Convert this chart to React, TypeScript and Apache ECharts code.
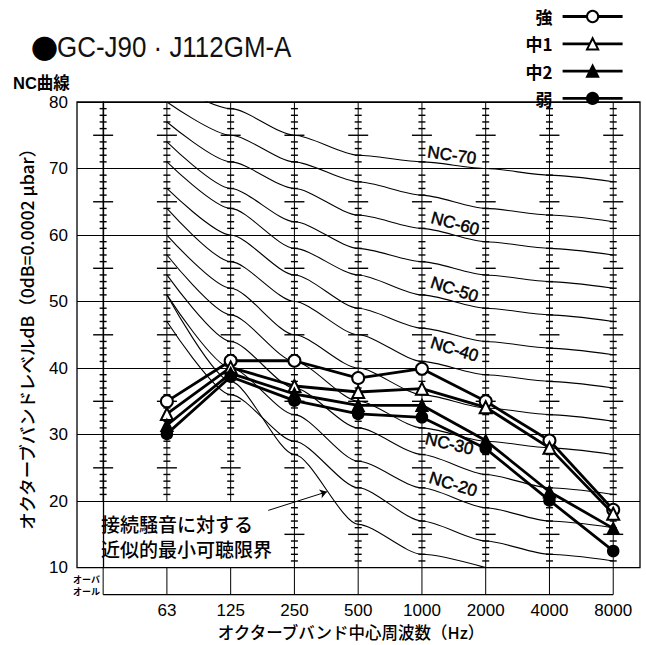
import React, { useEffect, useRef } from "react";
import * as echarts from "echarts";

// ---- data ----
const freqLabels = ["63", "125", "250", "500", "1000", "2000", "4000", "8000"];
const bandIndex = [1, 2, 3, 4, 5, 6, 7, 8]; // 0 = overall column
const columnIndex = [0, 1, 2, 3, 4, 5, 6, 7, 8];
const columnBottom = [20, 20, 20, 10, 10, 10, 10, 10, 10];

const legendNames = ["強", "中1", "中2", "弱"];
const strong = [35.0, 41.1, 41.1, 38.5, 39.9, 35.0, 29.1, 18.7];
const mid1 = [33.1, 40.1, 37.3, 36.4, 36.9, 34.1, 28.0, 18.1];
const mid2 = [31.4, 39.2, 36.1, 34.4, 34.4, 29.1, 21.4, 15.9];
const weak = [30.1, 38.7, 35.1, 33.1, 32.6, 27.9, 20.1, 12.5];

const nc15 = [47, 36, 29, 22, 17, 14, 12, 11];
const nc20 = [51, 40, 33, 26, 22, 19, 17, 16];
const nc25 = [54, 44, 37, 31, 27, 24, 22, 21];
const nc30 = [57, 48, 41, 35, 31, 29, 28, 27];
const nc35 = [60, 52, 45, 40, 36, 34, 33, 32];
const nc40 = [64, 56, 50, 45, 41, 39, 38, 37];
const nc45 = [67, 60, 54, 49, 46, 44, 43, 42];
const nc50 = [71, 64, 58, 54, 51, 49, 48, 47];
const nc55 = [74, 67, 62, 58, 56, 54, 53, 52];
const nc60 = [77, 71, 67, 63, 61, 59, 58, 57];
const nc65 = [80, 75, 71, 68, 66, 64, 63, 62];
const nc70 = [83, 79, 75, 72, 71, 70, 69, 68];
const ncCurves = [nc15, nc20, nc25, nc30, nc35, nc40, nc45, nc50, nc55, nc60, nc65, nc70];

const thresholdBands = [1, 2, 3, 4, 5, 6];
const threshold = [51, 38, 27, 16.5, 12, 10];
const arrowFrom = [2.59, 18.6];
const arrowTo = [3.51, 21.4];

const ncLabelText = ["NC-70", "NC-60", "NC-50", "NC-40", "NC-30", "NC-20"];
const ncLabelBand = [5.47, 5.52, 5.51, 5.51, 5.43, 5.49];
const ncLabelLevel = [72.0, 61.7, 51.8, 42.8, 28.6, 22.5];
const ncLabelAngle = [-8, -15, -18, -17, -13, -17];

const JP = '"Noto Sans CJK JP", "Liberation Sans", sans-serif';
const LAT = '"Liberation Sans", "Noto Sans CJK JP", sans-serif';

function buildOption() {
  const pairs = (xs: number[], ys: number[]) => ys.map((v, k) => [xs[k], v]);

  const columnSeries = {
    type: "custom",
    silent: true,
    z: 2,
    clip: false,
    encode: { x: 0, y: 1 },
    data: columnIndex.map((c, k) => [c, columnBottom[k]]),
    renderItem: (params: any, api: any) => {
      const i = api.value(0);
      const bottom = api.value(1);
      const top = api.coord([i, 80]);
      const bot = api.coord([i, bottom]);
      const x = top[0];
      const children: any[] = [
        { type: "line", shape: { x1: x, y1: top[1], x2: x, y2: bot[1] }, style: { stroke: "#000", lineWidth: 1 } },
      ];
      for (let v = bottom; v <= 80; v++) {
        if (v % 10 === 0) continue;
        const y = api.coord([i, v])[1];
        const hw = v % 5 === 0 ? 10 : 3.5;
        children.push({
          type: "line",
          shape: { x1: x - hw, y1: y, x2: x + hw, y2: y },
          style: { stroke: "#000", lineWidth: 1.4 },
        });
      }
      const base = api.coord([i, 10]);
      children.push({
        type: "line",
        shape: { x1: x, y1: base[1], x2: x, y2: base[1] + 27 },
        style: { stroke: "#000", lineWidth: 1 },
      });
      if (i === 0) {
        const end = api.coord([8, 10]);
        children.push({
          type: "line",
          shape: { x1: x, y1: base[1] + 27, x2: end[0], y2: base[1] + 27 },
          style: { stroke: "#000", lineWidth: 1.2 },
        });
      }
      return { type: "group", children };
    },
  };

  const ncSeries = ncCurves.map((vals) => ({
    type: "line",
    silent: true,
    z: 3,
    data: pairs(bandIndex, vals),
    symbol: "none",
    smooth: 0.25,
    smoothMonotone: "x",
    lineStyle: { color: "#000", width: 1.1 },
  }));

  const thresholdSeries = {
    type: "line",
    silent: true,
    z: 3,
    data: pairs(thresholdBands, threshold),
    symbol: "none",
    smooth: 0.25,
    smoothMonotone: "x",
    lineStyle: { color: "#000", width: 1.1 },
    markLine: {
      silent: true,
      symbol: ["none", "arrow"],
      symbolSize: 7,
      label: { show: false },
      lineStyle: { color: "#000", width: 1, type: "solid" },
      data: [[{ coord: arrowFrom }, { coord: arrowTo }]],
    },
  };

  const labelSeries = {
    type: "custom",
    silent: true,
    z: 4,
    clip: false,
    encode: { x: 0, y: 1 },
    data: ncLabelText.map((t, k) => [ncLabelBand[k], ncLabelLevel[k], k]),
    renderItem: (params: any, api: any) => {
      const k = api.value(2);
      const p = api.coord([api.value(0), api.value(1)]);
      return {
        type: "text",
        x: p[0],
        y: p[1],
        rotation: (ncLabelAngle[k] * Math.PI) / 180,
        style: {
          text: ncLabelText[k],
          fontSize: 17,
          fontFamily: LAT,
          fill: "#000",
          stroke: "#000",
          lineWidth: 0.5,
          align: "center",
          verticalAlign: "middle",
        },
      };
    },
  };

  const symbols = ["emptyCircle", "emptyTriangle", "triangle", "circle"];
  const valuesList = [strong, mid1, mid2, weak];
  const dataSeries = legendNames.map((name, k) => ({
    type: "line",
    name,
    silent: true,
    z: 5 + k,
    data: pairs(bandIndex, valuesList[k]),
    symbol: symbols[k],
    symbolSize: k === 3 ? 11 : 12,
    lineStyle: { color: "#000", width: 2.8 },
    itemStyle: { color: "#000", borderColor: "#000", borderWidth: 1.5 },
  }));

  return {
    animation: false,
    backgroundColor: "#fff",
    grid: { left: 77, right: 6, top: 102, bottom: 77, show: true, borderColor: "#000", borderWidth: 1.3 },
    legend: {
      data: legendNames,
      orient: "vertical",
      right: 22,
      top: 8,
      padding: 0,
      align: "right",
      itemWidth: 60,
      itemHeight: 14,
      itemGap: 10.3,
      selectedMode: false,
      lineStyle: { width: 2.8 },
      textStyle: { fontSize: 17, fontWeight: "bold", color: "#000", fontFamily: JP, lineHeight: 14, padding: [0, 5, 0, 0] },
    },
    xAxis: {
      type: "value",
      min: -0.41,
      max: 8.42,
      splitLine: { show: false },
      axisLine: { show: false },
      axisTick: { show: false },
      axisLabel: {
        customValues: bandIndex,
        formatter: (v: number) => freqLabels[Math.round(v) - 1] ?? "",
        margin: 34,
        fontSize: 17,
        fontFamily: LAT,
        color: "#000",
      },
      name: "オクターブバンド中心周波数（Hz）",
      nameLocation: "middle",
      nameGap: 54,
      nameTextStyle: { fontSize: 16.5, fontFamily: JP, fontWeight: 500, color: "#000", padding: [0, 15, 0, 0] },
    },
    yAxis: {
      type: "value",
      min: 10,
      max: 80,
      interval: 10,
      axisLine: { show: true, lineStyle: { color: "#000", width: 1.3 } },
      axisTick: { show: false },
      splitLine: { show: true, lineStyle: { color: "#000", width: 1.1 } },
      axisLabel: { fontSize: 17, fontFamily: LAT, color: "#000", margin: 9 },
      name: "オクターブバンドレベルdB（0dB=0.0002 μbar）",
      nameLocation: "middle",
      nameGap: 42,
      nameTextStyle: { fontSize: 17.5, fontFamily: JP, fontWeight: 500, color: "#000" },
    },
    graphic: [
      {
        type: "text",
        x: 31,
        y: 47,
        silent: true,
        style: { text: "●", fontSize: 27, fontFamily: JP, fill: "#000", verticalAlign: "middle" },
      },
      {
        type: "text",
        x: 57,
        y: 47,
        scaleX: 0.865,
        silent: true,
        style: { text: "GC-J90 · J112GM-A", fontSize: 30, fontFamily: LAT, fill: "#111", verticalAlign: "middle" },
      },
      {
        type: "text",
        x: 13,
        y: 83,
        silent: true,
        style: { text: "NC曲線", fontSize: 16.5, lineHeight: 17, fontWeight: "bold", fontFamily: LAT, fill: "#000", verticalAlign: "middle" },
      },
      {
        type: "text",
        x: 100,
        y: 579,
        silent: true,
        style: { text: "オーバ", fontSize: 9, fontWeight: "bold", fontFamily: JP, fill: "#000", align: "right", verticalAlign: "middle" },
      },
      {
        type: "text",
        x: 100,
        y: 591,
        silent: true,
        style: { text: "オール", fontSize: 9, fontWeight: "bold", fontFamily: JP, fill: "#000", align: "right", verticalAlign: "middle" },
      },
      {
        type: "text",
        x: 101,
        y: 523,
        silent: true,
        style: { text: "接続騒音に対する", fontSize: 19, fontWeight: 500, fontFamily: JP, fill: "#000", verticalAlign: "middle" },
      },
      {
        type: "text",
        x: 101,
        y: 548,
        silent: true,
        style: { text: "近似的最小可聴限界", fontSize: 19, fontWeight: 500, fontFamily: JP, fill: "#000", verticalAlign: "middle" },
      },
    ],
    series: [columnSeries, ...ncSeries, thresholdSeries, labelSeries, ...dataSeries],
  };
}

export default function App() {
  const ref = useRef<HTMLDivElement>(null);
  useEffect(() => {
    if (!ref.current) return;
    const chart = echarts.init(ref.current, null, { renderer: "svg" });
    chart.setOption(buildOption() as any);
    return () => chart.dispose();
  }, []);
  return (
    <div
      ref={ref}
      style={{ position: "fixed", left: 0, top: 0, width: 646, height: 645, background: "#fff" }}
    />
  );
}
